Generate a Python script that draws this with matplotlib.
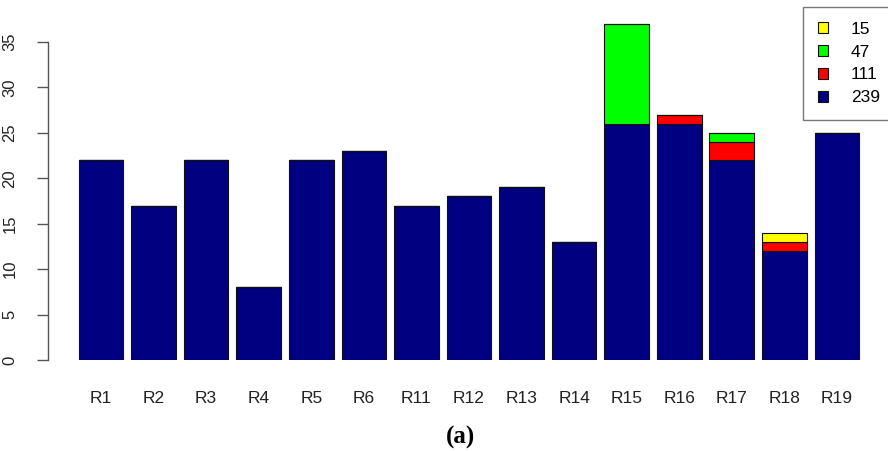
import matplotlib.pyplot as plt
from matplotlib.patches import Patch
import numpy as np

# stacked counts per region
regions = ['R1', 'R2', 'R3', 'R4', 'R5', 'R6', 'R11', 'R12', 'R13', 'R14',
           'R15', 'R16', 'R17', 'R18', 'R19']
n239 = [22, 17, 22, 8, 22, 23, 17, 18, 19, 13, 26, 26, 22, 12, 25]
n111 = [0, 0, 0, 0, 0, 0, 0, 0, 0, 0, 0, 1, 2, 1, 0]
n47 = [0, 0, 0, 0, 0, 0, 0, 0, 0, 0, 11, 0, 1, 0, 0]
n15 = [0, 0, 0, 0, 0, 0, 0, 0, 0, 0, 0, 0, 0, 1, 0]

groups = ['239', '111', '47', '15']
colors = ['#000080', '#ff0000', '#00ff00', '#ffff00']

plt.rcParams['font.family'] = ['Liberation Sans', 'DejaVu Sans']

W, H = 888, 451
fig = plt.figure(figsize=(W / 100, H / 100), dpi=100)
ax = fig.add_axes([48 / W, (H - 360) / H, 1 - 48 / W, 360 / H])

x = np.arange(len(regions))
bottom = np.zeros(len(regions))
for vals, col in zip([n239, n111, n47, n15], colors):
    ax.bar(x, vals, width=0.85, bottom=bottom, color=col,
           edgecolor='#111111', linewidth=0.8)
    bottom += np.array(vals)

ax.set_xlim((48 - 101) / 52.57, (888 - 101) / 52.57)
ax.set_ylim(0, 360 / 9.086)

for s in ['top', 'right', 'bottom']:
    ax.spines[s].set_visible(False)
ax.spines['left'].set_bounds(0, 35)
ax.spines['left'].set_color('#555555')
ax.spines['left'].set_linewidth(1.0)

ax.set_yticks(range(0, 36, 5))
ax.tick_params(axis='y', direction='out', length=8, width=1.0,
               color='#555555', pad=14, labelsize=12, labelcolor='#222222')
for lab in ax.get_yticklabels():
    lab.set_rotation(90)
    lab.set_va('center')

ax.set_xticks(x)
ax.set_xticklabels(regions)
ax.tick_params(axis='x', length=0, pad=22, labelsize=12.5, labelcolor='#222222')

handles = [Patch(facecolor=c, edgecolor='#111111', linewidth=0.8)
           for c in colors]
leg = fig.legend(handles[::-1], groups[::-1], loc='upper left',
                 bbox_to_anchor=(803 / W, 1 - 7 / H), fontsize=12.5,
                 frameon=True, fancybox=False, handlelength=0.6,
                 handleheight=0.6, handletextpad=1.3, labelspacing=0.45,
                 borderpad=0.85, borderaxespad=0)
leg.get_frame().set_edgecolor('#555555')
leg.get_frame().set_linewidth(1.0)

fig.text(460 / W, 1 - 437 / H, '(a)', ha='center', va='center',
         family='Liberation Serif', fontweight='bold', fontsize=18)

fig.savefig('out.png', dpi=100)
